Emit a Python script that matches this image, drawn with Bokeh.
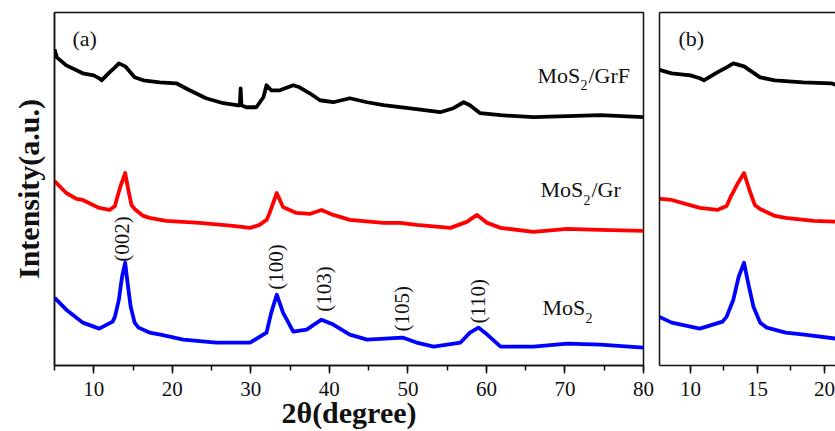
import math
from bokeh.plotting import figure
from bokeh.layouts import row
from bokeh.models import SingleIntervalTicker, FixedTicker, LinearAxis, Range1d
from bokeh.core.properties import value
from bokeh.embed import file_html
from bokeh.resources import INLINE

# ---------------- data ----------------
tt_grf = [5.0, 5.3, 6.5, 8.6, 10.0, 10.7, 11.0, 12.0, 12.7, 13.2, 14.0, 15.2, 16.3, 18.4,
          20.5, 22.2, 24.3, 26.5, 28.2, 28.6, 28.7, 28.8, 29.4, 30.7, 31.6, 32.0, 32.6,
          33.7, 35.4, 36.2, 37.5, 38.8, 40.5, 42.6, 44.8, 46.9, 49.0, 51.1, 54.1, 55.8,
          57.1, 57.9, 59.2, 61.8, 66.0, 70.3, 74.5, 80.0]
i_grf = [317, 309, 301, 293, 291, 288, 286, 294, 299, 303, 300, 289, 286, 284,
         283, 276, 268, 263, 261, 261, 278, 261, 259, 259, 269, 281, 276,
         276, 281, 279, 273, 266, 264, 268, 264, 261, 259, 257, 254, 258,
         264, 261, 253, 251, 249, 250, 251, 249]

tt_gr = [5.0, 6.5, 7.8, 8.6, 10.7, 12.0, 12.7, 13.0, 13.5, 14.0, 14.4, 14.8, 15.2, 16.3,
         17.1, 19.2, 23.5, 27.7, 29.9, 31.1, 32.0, 32.4, 33.3, 34.1, 35.8, 37.5, 39.0,
         40.5, 42.6, 46.9, 49.0, 51.1, 55.4, 57.5, 58.8, 60.1, 61.8, 66.0, 70.3, 74.5, 80.0]
i_gr = [185, 173, 167, 166, 158, 156, 160, 169, 182, 193, 176, 161, 157, 150,
        148, 145, 143, 140, 138, 141, 146, 153, 173, 159, 153, 152, 156,
        151, 146, 143, 143, 141, 138, 144, 151, 143, 138, 134, 137, 136, 135]

tt_mos2 = [5.0, 6.5, 7.8, 8.6, 10.7, 12.4, 12.7, 13.2, 13.6, 14.0, 14.3, 14.7, 15.2, 15.7,
           17.1, 18.5, 21.4, 25.6, 29.9, 32.0, 32.6, 33.3, 34.1, 35.4, 37.1, 39.0, 40.5,
           42.6, 44.8, 49.3, 51.1, 53.3, 56.7, 57.9, 59.0, 60.1, 61.8, 66.0, 70.3, 74.5, 80.0]
i_mos2 = [68, 56, 48, 43, 37, 44, 49, 66, 89, 103, 83, 59, 43, 38,
          33, 31, 26, 23, 23, 33, 53, 71, 53, 34, 36, 46, 41,
          31, 26, 28, 23, 19, 23, 33, 38, 31, 19, 19, 22, 21, 18]

hkl_labels = ["(002)", "(100)", "(103)", "(105)", "(110)"]
hkl_tt = [13.55, 33.2, 39.3, 49.3, 58.9]
hkl_base = [104, 76, 54, 34, 42]

sample_names = [("MoS", "2", "/GrF"), ("MoS", "2", "/Gr"), ("MoS", "2", "")]
colors = ["#000000", "#ff0000", "#0000ff"]

FONT = "Liberation Serif"
INK = "#111111"

# panel (a) frame: px 54..643 for 5..80, py 12..366 for 354..0
def ax_a(px):
    return 5 + (px - 54) * 75.0 / 589.0

def ax_y(py):
    return 366 - py


def style_common(p):
    p.grid.visible = False
    p.background_fill_color = "white"
    p.border_fill_color = "white"


def style_xaxis(ax, interval):
    ax.ticker = SingleIntervalTicker(interval=interval, num_minor_ticks=2)
    ax.axis_line_width = 1.5
    ax.axis_line_color = INK
    ax.major_tick_out = 8
    ax.major_tick_in = 0
    ax.minor_tick_out = 5
    ax.minor_tick_in = 0
    ax.major_tick_line_width = 1.5
    ax.minor_tick_line_width = 1.5
    ax.major_tick_line_color = INK
    ax.minor_tick_line_color = INK
    ax.major_label_text_font = FONT
    ax.major_label_text_font_size = "21px"
    ax.major_label_text_color = INK
    ax.major_label_standoff = 8


def blank_axis(ax):
    ax.ticker = FixedTicker(ticks=[])
    ax.major_tick_line_color = None
    ax.minor_tick_line_color = None
    ax.major_label_text_font_size = "0px"
    ax.major_label_standoff = 0
    ax.axis_line_width = 1.5
    ax.axis_line_color = INK


# ---------------- panel (a) ----------------
p1 = figure(width=656, height=431, x_range=Range1d(5, 80), y_range=Range1d(0, 354),
            output_backend="svg", toolbar_location=None,
            min_border_left=54, min_border_right=13, min_border_top=12, min_border_bottom=65)
style_common(p1)
p1.outline_line_color = INK
p1.outline_line_width = 1.5
p1.outline_line_alpha = 1.0
style_xaxis(p1.xaxis[0], 10)
p1.xaxis[0].axis_label = "2θ(degree)"
p1.xaxis[0].axis_label_text_font = FONT
p1.xaxis[0].axis_label_text_font_style = "bold"
p1.xaxis[0].axis_label_text_font_size = "30px"
p1.xaxis[0].axis_label_text_color = INK
p1.xaxis[0].axis_label_standoff = -3
blank_axis(p1.yaxis[0])
p1.yaxis[0].axis_label = "Intensity(a.u.)"
p1.yaxis[0].axis_label_text_font = FONT
p1.yaxis[0].axis_label_text_font_style = "bold"
p1.yaxis[0].axis_label_text_font_size = "30px"
p1.yaxis[0].axis_label_text_color = INK
p1.yaxis[0].axis_label_standoff = 10

for xs, ys, c in zip([tt_grf, tt_gr, tt_mos2], [i_grf, i_gr, i_mos2], colors):
    p1.line(xs, ys, line_color=c, line_width=3.8, line_join="round")

# sample names with subscript 2
name_left = [537, 540, 542]
name_base = [75, 190, 308]
for (a, sub, b), lx, by in zip(sample_names, name_left, name_base):
    p1.text(x=[ax_a(lx)], y=[ax_y(by)], text=[a], text_font=value(FONT), text_font_size="22px",
            text_color=INK, text_align="left", text_baseline="alphabetic")
    p1.text(x=[ax_a(lx + 43)], y=[ax_y(by + 10)], text=[sub], text_font=value(FONT),
            text_font_size="14px", text_color=INK, text_align="left", text_baseline="alphabetic")
    if b:
        p1.text(x=[ax_a(lx + 51)], y=[ax_y(by)], text=[b], text_font=value(FONT), text_font_size="22px",
                text_color=INK, text_align="left", text_baseline="alphabetic")

p1.text(x=hkl_tt, y=hkl_base, text=hkl_labels, angle=math.pi / 2, text_font=value(FONT),
        text_font_size="21px", text_color=INK, text_align="left", text_baseline="middle")

p1.text(x=[ax_a(72)], y=[ax_y(38)], text=["(a)"], text_font=value(FONT), text_font_size="22px",
        text_color=INK, text_align="left", text_baseline="alphabetic")

# ---------------- panel (b) ----------------
b_start = 7.69
b_end = b_start + 176 / 13.4
p2 = figure(width=179, height=431, x_range=Range1d(b_start, b_end), y_range=Range1d(0, 354),
            output_backend="svg", toolbar_location=None,
            min_border_left=3, min_border_right=0, min_border_top=12, min_border_bottom=65)
style_common(p2)
p2.outline_line_color = None
style_xaxis(p2.xaxis[0], 5)
blank_axis(p2.yaxis[0])
top = LinearAxis()
blank_axis(top)
p2.add_layout(top, "above")

for xs, ys, c in zip([tt_grf, tt_gr, tt_mos2], [i_grf, i_gr, i_mos2], colors):
    p2.line(xs, ys, line_color=c, line_width=3.8, line_join="round")

p2.text(x=[b_start + (678 - 659) / 13.4], y=[ax_y(38)], text=["(b)"], text_font=value(FONT),
        text_font_size="22px", text_color=INK, text_align="left", text_baseline="alphabetic")

layout = row(p1, p2)
open("out.html", "w").write(file_html(layout, INLINE))
